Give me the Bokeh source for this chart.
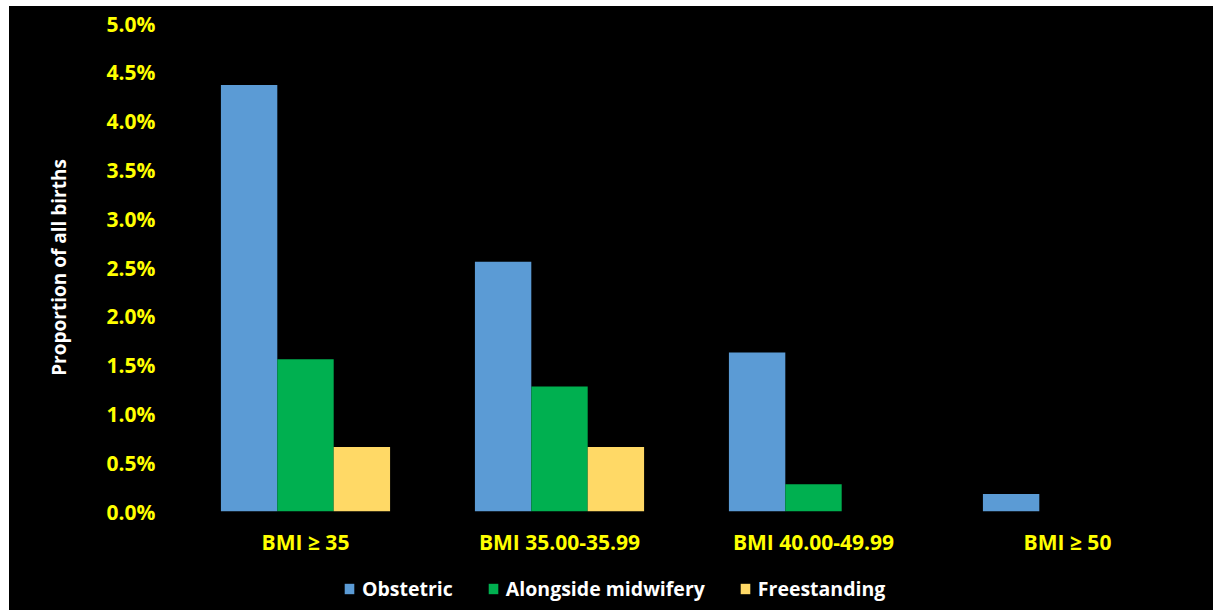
from bokeh.plotting import figure
from bokeh.layouts import column
from bokeh.models import (FactorRange, Range1d, ColumnDataSource, NumeralTickFormatter,
                          FixedTicker, Legend, LegendItem)
from bokeh.transform import dodge
from bokeh.embed import file_html
from bokeh.resources import INLINE

categories = ["BMI ≥ 35", "BMI 35.00-35.99", "BMI 40.00-49.99", "BMI ≥ 50"]
obstetric = [0.0437, 0.0256, 0.0163, 0.0018]
alongside = [0.0156, 0.0128, 0.0028, 0.0]
freestanding = [0.0066, 0.0066, 0.0, 0.0]
series_names = ["Obstetric", "Alongside midwifery", "Freestanding"]
y_ticks = [0.0, 0.005, 0.01, 0.015, 0.02, 0.025, 0.03, 0.035, 0.04, 0.045, 0.05]

colors = ["#5B9BD5", "#00B050", "#FFD966"]
FONT = "Open Sans"

src = ColumnDataSource(dict(cat=categories, obs=obstetric, alo=alongside, fre=freestanding))

p = figure(width=1204, height=560, x_range=FactorRange(*categories, range_padding=0),
           y_range=Range1d(0, 0.05), output_backend="svg", toolbar_location=None,
           background_fill_color="black", border_fill_color="black",
           outline_line_color="black",
           min_border_left=169, min_border_right=19, min_border_top=17, min_border_bottom=55)
p.xgrid.grid_line_color = None
p.ygrid.grid_line_color = None

bw = 0.222
cols = ["obs", "alo", "fre"]
offsets = [-bw, 0, bw]
for c, off, col in zip(cols, offsets, colors):
    p.vbar(x=dodge("cat", off, range=p.x_range), top=c, width=bw, source=src,
           fill_color=col, line_color=None)

ya = p.yaxis[0]
ya.ticker = FixedTicker(ticks=y_ticks)
ya.formatter = NumeralTickFormatter(format="0.0%")
ya.axis_line_color = None
ya.major_tick_line_color = None
ya.minor_tick_line_color = None
ya.major_tick_out = 0
ya.major_label_standoff = 23
ya.major_label_text_color = "#FFFF00"
ya.major_label_text_font = FONT
ya.major_label_text_font_style = "bold"
ya.major_label_text_font_size = "21px"
ya.axis_label = "Proportion of all births"
ya.axis_label_text_color = "white"
ya.axis_label_text_font = FONT
ya.axis_label_text_font_style = "bold"
ya.axis_label_text_font_size = "19px"
ya.axis_label_standoff = 32

xa = p.xaxis[0]
xa.axis_line_color = None
xa.major_tick_line_color = None
xa.minor_tick_line_color = None
xa.major_tick_out = 0
xa.major_label_standoff = 16
xa.major_label_text_color = "#FFFF00"
xa.major_label_text_font = FONT
xa.major_label_text_font_style = "bold"
xa.major_label_text_font_size = "21px"

# Legend strip below the chart (shares the category axis; its bars fall outside its y range)
lp = figure(width=1204, height=44, x_range=p.x_range, y_range=Range1d(1, 2),
            output_backend="svg", toolbar_location=None,
            background_fill_color="black", border_fill_color="black",
            outline_line_color="black", x_axis_type=None, y_axis_type=None,
            min_border_left=0, min_border_right=0, min_border_top=0, min_border_bottom=0)
lp.xgrid.visible = False
lp.ygrid.visible = False
lr = [lp.vbar(x=dodge("cat", off, range=p.x_range), top=c, width=bw, source=src,
              fill_color=col, line_color=None)
      for c, off, col in zip(cols, offsets, colors)]
legend = Legend(items=[LegendItem(label=n, renderers=[r]) for n, r in zip(series_names, lr)],
                orientation="horizontal", location=(165, 8),
                label_text_color="white", label_text_font=FONT,
                label_text_font_style="bold", label_text_font_size="19.5px",
                glyph_width=12, glyph_height=13, label_standoff=7, spacing=34,
                padding=0, margin=0, background_fill_alpha=0, border_line_color=None)
lp.add_layout(legend, "center")

layout = column(p, lp, spacing=0)
layout.margin = (6, 0, 0, 9)
layout.styles = {"background-color": "black"}

open("out.html", "w").write(file_html(layout, INLINE))
